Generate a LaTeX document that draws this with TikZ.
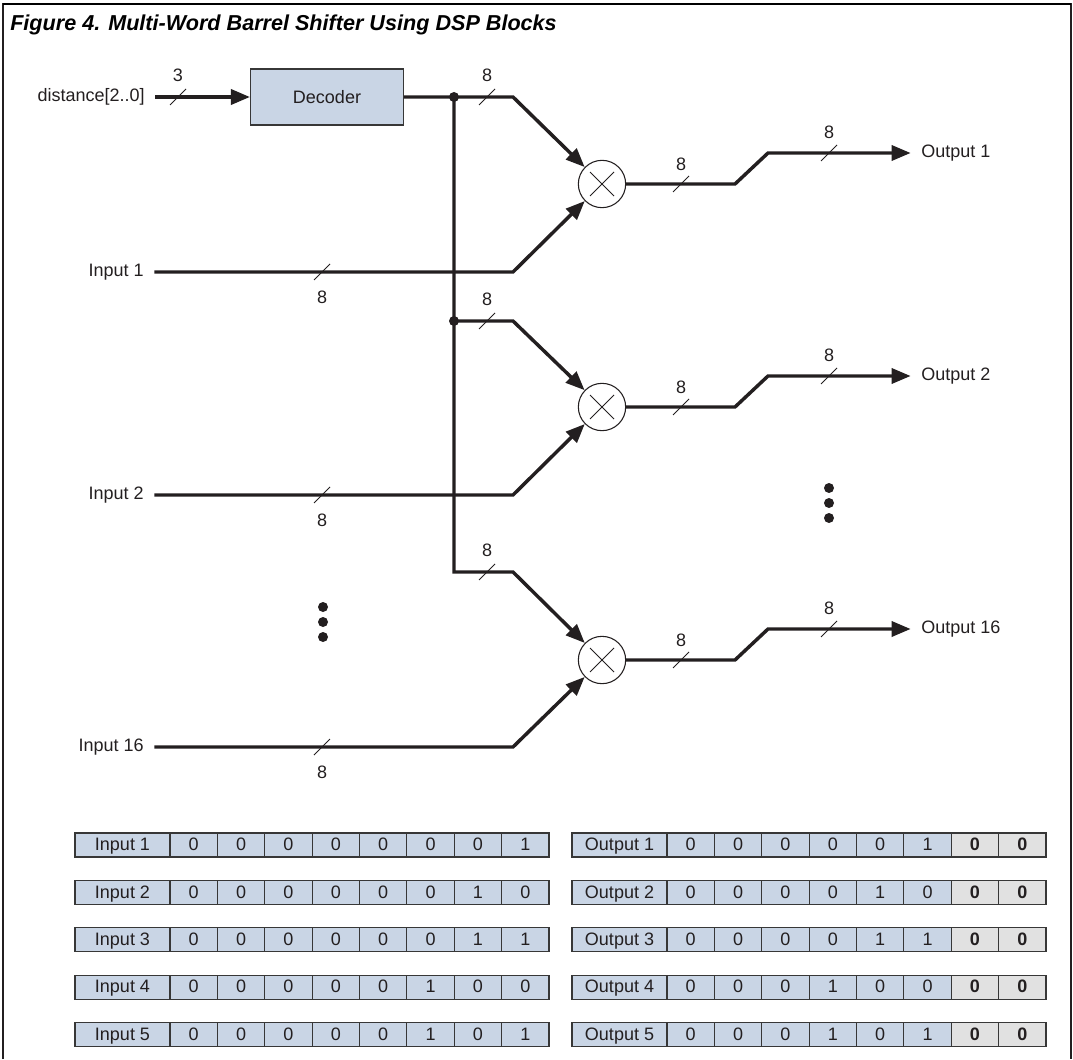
\documentclass[tikz,border=0pt]{standalone}
\usepackage{fontspec}
\setmainfont{Liberation Sans}
\usetikzlibrary{arrows.meta}
\definecolor{cellblue}{RGB}{201,213,229}
\definecolor{cellgray}{RGB}{225,225,225}
\definecolor{boxline}{RGB}{55,55,55}
\definecolor{ink}{RGB}{35,31,32}

\begin{document}
\begin{tikzpicture}[x=0.75pt,y=0.75pt,yscale=-1,xscale=1,
  bus/.style={color=ink, line width=2.6pt},
  busarrow/.style={bus, -{Triangle[length=14.25pt,width=11.25pt]}},
  tick/.style={color=ink, line width=0.6pt},
  lbl/.style={inner sep=0.75pt, text=ink, font=\fontsize{13.5}{16}\selectfont},
  mult/.style={circle, draw=ink, line width=0.8pt, minimum size=35.5pt, inner sep=0pt},
  decbox/.style={draw=boxline, fill=cellblue, line width=0.8pt, minimum width=114.75pt, minimum height=42pt},
  jdot/.style={circle, fill=ink, inner sep=0pt, minimum size=7.5pt},
  vdot/.style={circle, fill=ink, inner sep=0pt, minimum size=7.5pt},
  cell/.style={lbl, draw=boxline, fill=cellblue, line width=0.9pt, minimum width=35.53pt, minimum height=18pt, inner sep=0pt, text height=9.6pt, text depth=1.2pt},
  namecell/.style={cell, minimum width=71.25pt},
  padcell/.style={cell, fill=cellgray, font=\fontsize{13.5}{16}\selectfont\bfseries}
]
\useasboundingbox (0,0) rectangle (1073,1059);
%frame
\draw [line width=0.9pt, color=ink] (3,1059) -- (3,4) -- (1071,4) -- (1071,1059) ;
\draw [line width=1.5pt] (3,4) -- (1071,4) ;

% Text Node
\node [anchor=base west, inner sep=0pt, text=black, font=\fontsize{16.2}{19}\selectfont\bfseries\itshape] (title) at (10,31) {Figure 4. Multi-Word Barrel Shifter Using DSP Blocks};

% Decoder and multipliers
\node [lbl, anchor=east] (dist) at (146,97) {distance[2..0]};
\node [decbox, lbl] (dec) at (327,97) {Decoder};
\node [mult] (m1) at (602,184) {};
\node [mult] (m2) at (602,407) {};
\node [mult] (m3) at (602,660) {};
\foreach \m in {m1,m2,m3}
  \draw [tick] (\m.center) +(-12,-12) -- +(12,12) (\m.center) +(-12,12) -- +(12,-12) ;

% Input and output labels
\node [lbl, anchor=east] (in1) at (145,272) {Input 1};
\node [lbl, anchor=east] (in2) at (145,495) {Input 2};
\node [lbl, anchor=east] (in16) at (145,747) {Input 16};
\node [lbl, anchor=west] (out1) at (920,153) {Output 1};
\node [lbl, anchor=west] (out2) at (920,376) {Output 2};
\node [lbl, anchor=west] (out16) at (920,629) {Output 16};

% corner points
\coordinate (j1) at (454,97);
\coordinate (j2) at (454,321);
\coordinate (c3) at (454,572);
\coordinate (t1) at (513,97);
\coordinate (t2) at (513,321);
\coordinate (t3) at (513,572);
\coordinate (b1) at (513,272);
\coordinate (b2) at (513,495);
\coordinate (b3) at (513,747);
\coordinate (o1a) at (735,184);
\coordinate (o1b) at (768,153);
\coordinate (o2a) at (735,407);
\coordinate (o2b) at (768,376);
\coordinate (o3a) at (735,660);
\coordinate (o3b) at (768,629);

%Straight Lines
\draw [busarrow, shorten <=7pt] (dist) -- (dec) ;
\draw [busarrow] (dec.east) -- (t1) -- (m1) ;
\draw [busarrow] (j1) -- (c3) -- (t3) -- (m3) ;
\draw [busarrow] (j2) -- (t2) -- (m2) ;
\draw [busarrow, shorten <=7pt] (in1) -- (b1) -- (m1) ;
\draw [busarrow, shorten <=7pt] (in2) -- (b2) -- (m2) ;
\draw [busarrow, shorten <=7pt] (in16) -- (b3) -- (m3) ;
\draw [busarrow, shorten >=7pt] (m1) -- (o1a) -- (o1b) -- (out1) ;
\draw [busarrow, shorten >=7pt] (m2) -- (o2a) -- (o2b) -- (out2) ;
\draw [busarrow, shorten >=7pt] (m3) -- (o3a) -- (o3b) -- (out16) ;
\node [jdot] (d1) at (j1) {};
\node [jdot] (d2) at (j2) {};

% bus width marks
\foreach \x/\y/\ly/\w [count=\i] in {178/97/75/3, 487/97/75/8, 487/321/299/8, 487/572/550/8,
    322/272/297/8, 322/495/520/8, 322/747/772/8,
    681/184/164/8, 829/153/132/8, 681/407/387/8, 829/376/355/8, 681/660/640/8, 829/629/608/8}{
  \draw [tick] (\x,\y) +(-8,8) -- +(8,-8) ;
  \node [lbl] (w\i) at (\x,\ly) {\w};
}

% ellipsis dots
\foreach \y [count=\i] in {607,622,637}
  \node [vdot] (ld\i) at (323,\y) {};
\foreach \y [count=\i] in {488,503,518}
  \node [vdot] (rd\i) at (829,\y) {};

% example tables
\foreach \r/\bits in {1/{0,0,0,0,0,0,0,1},2/{0,0,0,0,0,0,1,0},3/{0,0,0,0,0,0,1,1},4/{0,0,0,0,0,1,0,0},5/{0,0,0,0,0,1,0,1}}{
  \node [namecell] (inrow\r) at (122.5,{845+47.4*(\r-1)}) {Input \r};
  \foreach \b [count=\k] in \bits
    \node [cell] (in\r-\k) at ({146.31+47.375*\k},{845+47.4*(\r-1)}) {\b};
}
\foreach \r/\bits in {1/{0,0,0,0,0,1},2/{0,0,0,0,1,0},3/{0,0,0,0,1,1},4/{0,0,0,1,0,0},5/{0,0,0,1,0,1}}{
  \node [namecell] (outrow\r) at (619.5,{845+47.4*(\r-1)}) {Output \r};
  \foreach \b [count=\k] in \bits
    \node [cell] (out\r-\k) at ({643.31+47.375*\k},{845+47.4*(\r-1)}) {\b};
  \node [padcell] (out\r-7) at ({643.31+47.375*7},{845+47.4*(\r-1)}) {0};
  \node [padcell] (out\r-8) at ({643.31+47.375*8},{845+47.4*(\r-1)}) {0};
}

\end{tikzpicture}
\end{document}
